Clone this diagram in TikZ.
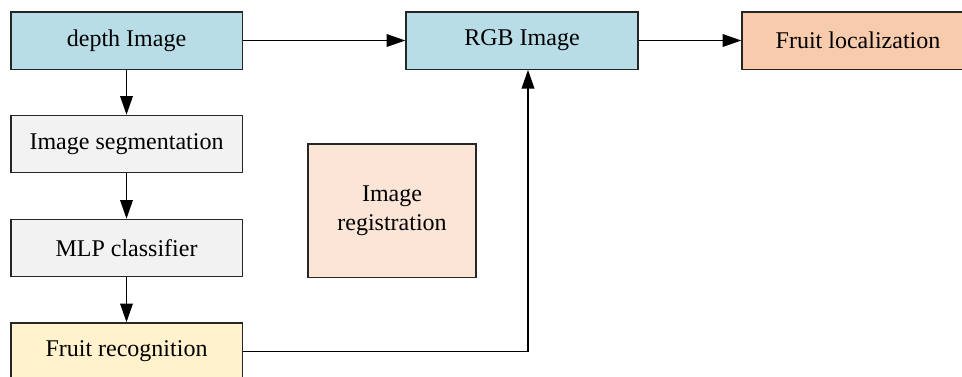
\documentclass[tikz,border=0pt]{standalone}
\usepackage{fontspec}
\setmainfont{Liberation Serif}
\usetikzlibrary{arrows.meta}

\definecolor{blueFill}{RGB}{184,221,231}
\definecolor{grayFill}{RGB}{242,242,242}
\definecolor{yellowFill}{RGB}{255,242,204}
\definecolor{peachFill}{RGB}{251,229,214}
\definecolor{orangeFill}{RGB}{248,203,173}

\begin{document}
\begin{tikzpicture}[
    x=0.75pt, y=-0.75pt,
    >={Triangle[length=14pt,width=9.5pt]},
    line width=1pt,
    % Box styles
    stage/.style={draw=black!85, line width=1pt, minimum width=173.5pt, minimum height=43pt,
                  inner sep=0pt, font=\fontsize{18}{21.5}\selectfont, align=center},
    blueStage/.style={stage, fill=blueFill},
    grayStage/.style={stage, fill=grayFill}
]
    \useasboundingbox (0,0) rectangle (962,376);
    \clip (0,0) rectangle (962,376);

    % --- LEFT COLUMN: DEPTH BRANCH ---
    \node[blueStage] (depthImg) at (126.5,40.5) {depth Image};
    \node[grayStage] (segment) at (126.5,144) {Image segmentation};
    \node[grayStage] (mlp) at (126.5,248) {MLP classifier};
    \node[stage, fill=yellowFill] (recog) at (126.5,351.5) {Fruit recognition};

    % --- TOP ROW ---
    \node[blueStage, minimum width=174pt] (rgbImg) at (522,40.5) {RGB Image};
    \node[stage, fill=orangeFill, minimum width=174pt] (localize) at (858,40.5) {Fruit localization};

    % --- MIDDLE LABEL BOX ---
    \node[stage, fill=peachFill, minimum width=126pt, minimum height=100pt] (register) at (392,210.5) {Image\\registration};

    % --- CONNECTORS ---
    \draw[->] (depthImg) -- (segment);
    \draw[->] (segment) -- (mlp);
    \draw[->] (mlp) -- (recog);
    \draw[->] (depthImg) -- (rgbImg);
    \draw[->] (rgbImg) -- (localize);
    \draw[->] (recog.east) -| ([xshift=4.5pt]rgbImg.south);

\end{tikzpicture}
\end{document}
